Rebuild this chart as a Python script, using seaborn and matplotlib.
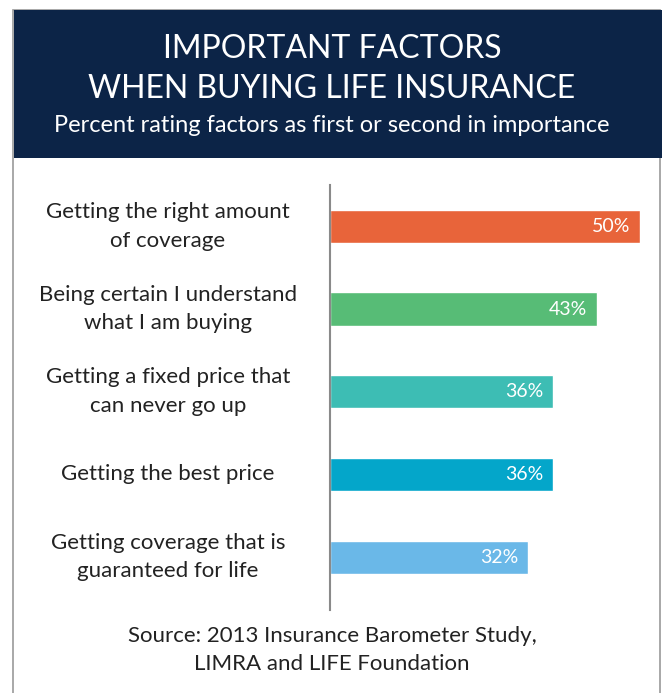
import matplotlib.pyplot as plt
import matplotlib.transforms as mtransforms
from matplotlib.patches import Rectangle
import seaborn as sns
import pandas as pd

# ----------------------------
# data
# ----------------------------
factors = [
    "Getting the right amount\nof coverage",
    "Being certain I understand\nwhat I am buying",
    "Getting a fixed price that\ncan never go up",
    "Getting the best price",
    "Getting coverage that is\nguaranteed for life",
]
percents = [50, 43, 36, 36, 32]
bar_colors = ["#E8643A", "#57BC76", "#3DBDB4", "#04A6CA", "#6AB8E8"]

title_lines = "IMPORTANT FACTORS\nWHEN BUYING LIFE INSURANCE"
subtitle = "Percent rating factors as first or second in importance"
source = "Source: 2013 Insurance Barometer Study,\nLIMRA and LIFE Foundation"

df = pd.DataFrame({"factor": factors, "pct": percents})

sns.set_style("white")
plt.rcParams["font.family"] = ["Lato", "DejaVu Sans"]

W, H = 664, 693
fig = plt.figure(figsize=(W / 100, H / 100), dpi=100)

# frame + header band
fig.patches.append(Rectangle((13 / W, -0.01), 647 / W, 1.01 - 10 / H,
                             transform=fig.transFigure, facecolor="none",
                             edgecolor="#9a9a9a", linewidth=1.2, zorder=0))
fig.patches.append(Rectangle((14 / W, 1 - 158 / H), 648 / W, 148 / H,
                             transform=fig.transFigure, facecolor="#0c2447",
                             edgecolor="none", zorder=1))

fig.text(0.5, 1 - 69 / H, title_lines, ha="center", va="center", color="white",
         fontsize=23, linespacing=1.4)
fig.text(0.5, 1 - 125 / H, subtitle, ha="center", va="center", color="white",
         fontsize=17)

# ----------------------------
# bars
# ----------------------------
ax = fig.add_axes([330 / W, 1 - 610 / H, 310 / W, 425 / H])
sns.barplot(data=df, x="pct", y="factor", hue="factor", palette=bar_colors,
            legend=False, width=0.4, orient="h", saturation=1, ax=ax)
ax.set_xlim(0, 50)
ax.set_ylim(4.64, -0.5)
ax.set_xlabel("")
ax.set_ylabel("")
ax.set_xticks([])
ax.set_yticks([])
for s in ["top", "right", "bottom"]:
    ax.spines[s].set_visible(False)
ax.spines["left"].set_color("#8a8a8a")
ax.spines["left"].set_linewidth(1.5)
ax.patch.set_alpha(0)

for i, v in enumerate(percents):
    ax.annotate(f"{v}%", xy=(v, i), xytext=(-7, 0), textcoords="offset points",
                ha="right", va="center", color="white", fontsize=14)

# category labels, centred in the left column
trans = mtransforms.blended_transform_factory(fig.transFigure, ax.transData)
for i, lab in enumerate(factors):
    ax.text(168 / W, i, lab, transform=trans, ha="center", va="center",
            color="#222222", fontsize=16, linespacing=1.55, clip_on=False)

fig.text(332 / W, 1 - 650 / H, source, ha="center", va="center", color="#222222",
         fontsize=16, linespacing=1.5)

fig.savefig("out.png", dpi=100)
